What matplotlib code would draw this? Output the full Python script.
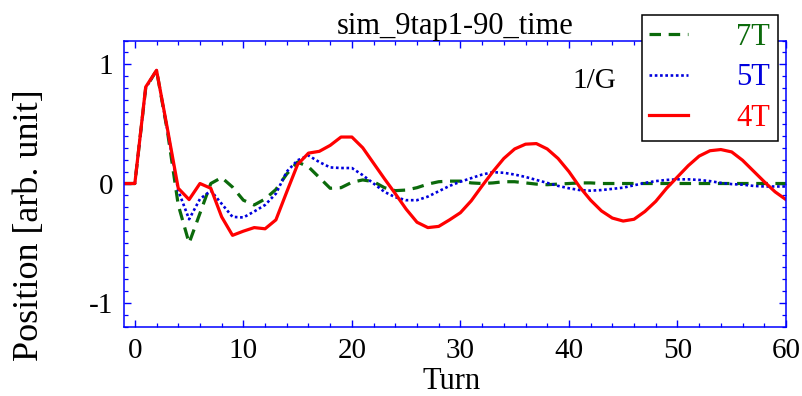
import matplotlib
matplotlib.use('Agg')
import matplotlib.pyplot as plt
from matplotlib.ticker import MultipleLocator

plt.rcParams['font.family'] = ['Liberation Serif', 'DejaVu Serif']
plt.rcParams['axes.unicode_minus'] = False

turn = list(range(-1, 61))

pos_4t = [0.0, 0.0, 0.81, 0.95, 0.46, -0.04, -0.135, 0.0, -0.04, -0.28,
          -0.435, -0.40, -0.37, -0.38, -0.305, -0.07, 0.16, 0.255, 0.27, 0.32,
          0.39, 0.39, 0.30, 0.17, 0.04, -0.085, -0.215, -0.325, -0.37, -0.36,
          -0.305, -0.245, -0.145, -0.02, 0.10, 0.21, 0.29, 0.33, 0.335, 0.29,
          0.21, 0.10, -0.03, -0.14, -0.23, -0.29, -0.315, -0.30, -0.235, -0.15,
          -0.04, 0.055, 0.15, 0.23, 0.275, 0.285, 0.265, 0.195, 0.105, 0.015,
          -0.07, -0.135]

pos_5t = [0.0, 0.0, 0.80, 0.95, 0.45, -0.06, -0.30, -0.13, -0.06, -0.17,
          -0.28, -0.285, -0.235, -0.18, -0.085, 0.10, 0.195, 0.235, 0.18, 0.135,
          0.13, 0.13, 0.07, 0.0, -0.07, -0.115, -0.14, -0.14, -0.11, -0.065,
          -0.02, 0.015, 0.045, 0.075, 0.095, 0.09, 0.075, 0.055, 0.03, 0.005,
          -0.02, -0.04, -0.055, -0.06, -0.055, -0.045, -0.035, -0.015, 0.005, 0.02,
          0.03, 0.035, 0.035, 0.03, 0.02, 0.005, -0.005, -0.01, -0.02, -0.025,
          -0.025, -0.025]

pos_7t = [0.0, 0.0, 0.80, 0.95, 0.44, -0.18, -0.50, -0.25, 0.0, 0.05,
          -0.03, -0.14, -0.18, -0.13, -0.05, 0.08, 0.18, 0.14, 0.05, -0.04,
          -0.035, 0.01, 0.03, 0.015, -0.035, -0.06, -0.055, -0.035, -0.005, 0.015,
          0.02, 0.02, 0.005, 0.0, 0.005, 0.015, 0.015, 0.005, -0.005, -0.01,
          -0.005, 0.0, 0.005, 0.005, 0.0, 0.0, 0.0, 0.0, 0.0, 0.0,
          0.0, 0.0, 0.0, 0.0, 0.0, 0.0, 0.0, 0.0, 0.0, 0.0,
          0.0, 0.0]

green = '#0b6a0b'
blue = '#0000dd'
red = '#ff0000'
axis_blue = '#0000ff'

fig = plt.figure(figsize=(8.02, 3.96), dpi=100)
ax = fig.add_axes([0.1546, 0.1755, 0.8254, 0.7222])

ax.plot(turn, pos_7t, color=green, lw=2.3, dashes=(3.6, 2.4), label='7T')
ax.plot(turn, pos_5t, color=blue, lw=1.9, dashes=(1, 1), label='5T')
ax.plot(turn, pos_4t, color=red, lw=2.3, label='4T')

ax.set_xlim(-1, 60)
ax.set_ylim(-1.2, 1.2)
ax.xaxis.set_major_locator(MultipleLocator(10))
ax.xaxis.set_minor_locator(MultipleLocator(2))
ax.yaxis.set_major_locator(MultipleLocator(1))
ax.yaxis.set_minor_locator(MultipleLocator(0.1))

for sp in ax.spines.values():
    sp.set_color(axis_blue)
    sp.set_linewidth(1.1)

ax.tick_params(which='both', direction='in', top=True, right=True,
               color=axis_blue, labelsize=21)
ax.tick_params(which='major', length=5, width=1.0, pad=8)
ax.tick_params(which='minor', length=2.8, width=0.9)

ax.set_title('sim_9tap1-90_time', fontsize=22, pad=4)
ax.set_xlabel('Turn', fontsize=22)
ax.xaxis.set_label_coords(0.495, -0.218)
ax.xaxis.label.set_va('baseline')
ax.set_ylabel('Position [arb. unit]', fontsize=26)
ax.yaxis.set_label_coords(-0.142, 0.355)
ax.yaxis.label.set_va('center')

ax.text(44.4, 0.86, '1/G', fontsize=21, ha='right', va='center')

leg = fig.legend(loc='upper right', bbox_to_anchor=(778 / 802, 1 - 15 / 396),
                 borderaxespad=0, fontsize=22, fancybox=False, edgecolor='black',
                 framealpha=1, handlelength=1.25, handletextpad=1.6,
                 labelspacing=0.38, borderpad=0.25, labelcolor='linecolor')
leg.get_frame().set_linewidth(1.1)

fig.savefig('out.png', dpi=100)
